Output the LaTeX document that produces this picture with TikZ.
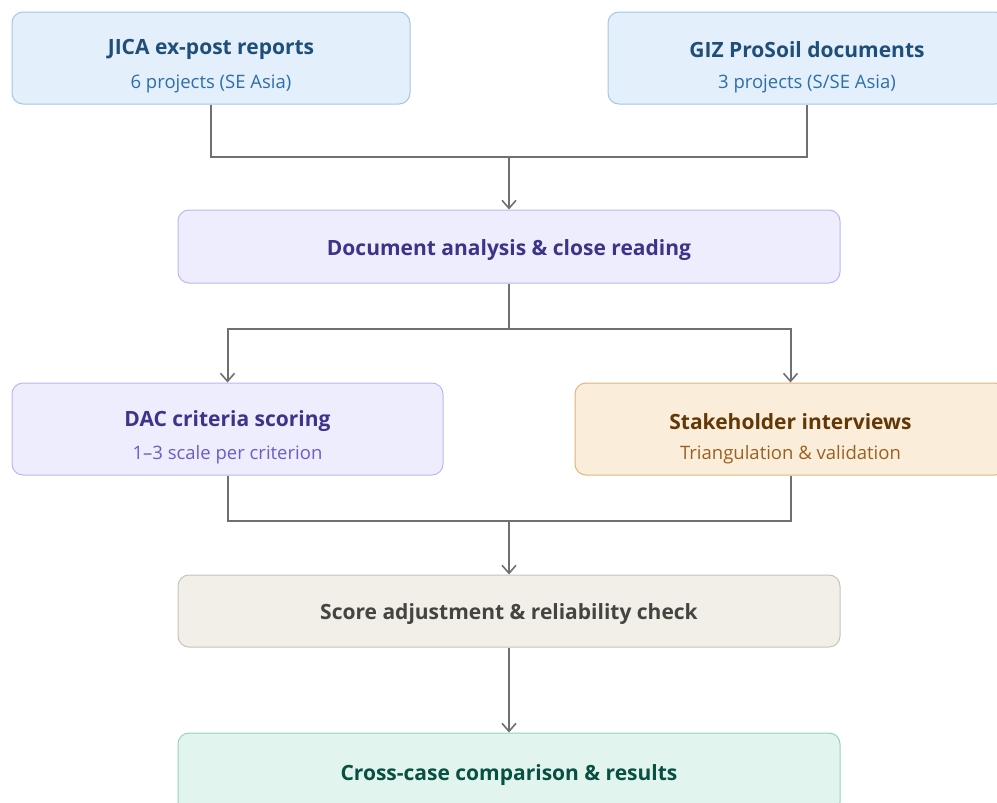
\documentclass[tikz,border=0pt]{standalone}
\usepackage{fontspec}
\setmainfont{Open Sans}
\usetikzlibrary{arrows.meta}
\definecolor{lineC}{HTML}{707070}
\definecolor{blueF}{HTML}{E3EFFA}\definecolor{blueD}{HTML}{A3C6E4}\definecolor{blueT}{HTML}{1F4E79}\definecolor{blueS}{HTML}{2F6EA8}
\definecolor{purF}{HTML}{EEEDFD}\definecolor{purD}{HTML}{BDB7EF}\definecolor{purT}{HTML}{3C3489}\definecolor{purS}{HTML}{6A5CCB}
\definecolor{orF}{HTML}{FAEEDA}\definecolor{orD}{HTML}{DDB57E}\definecolor{orT}{HTML}{633806}\definecolor{orS}{HTML}{9A6020}
\definecolor{grF}{HTML}{F1EFE8}\definecolor{grD}{HTML}{C6C3B8}\definecolor{grT}{HTML}{444441}
\definecolor{teF}{HTML}{E1F5EE}\definecolor{teD}{HTML}{97D3BB}\definecolor{teT}{HTML}{085041}
\tikzset{
  box/.style={draw, rounded corners=11pt, line width=1pt, inner sep=0pt},
  ttl/.style={font=\fontsize{21}{25}\selectfont\bfseries, inner sep=0pt},
  sbt/.style={font=\fontsize{18.5}{22}\selectfont, inner sep=0pt},
  conn/.style={draw=lineC, line width=2pt},
  arr/.style={conn, -{Straight Barb[length=8pt,width=14pt,line width=1.6pt]}},
}
\begin{document}
\begin{tikzpicture}[x=1pt,y=1pt]
\clip (0,0) rectangle (997,-803);
\useasboundingbox (0,0) rectangle (997,-803);
% boxes
\node[box, fill=blueF, draw=blueD, minimum width=398pt, minimum height=92pt] (jica) at (211,-58) {};
\node[box, fill=blueF, draw=blueD, minimum width=398pt, minimum height=92pt] (giz) at (807,-58) {};
\node[box, fill=purF, draw=purD, minimum width=662pt, minimum height=73pt] (doc) at (509,-246.5) {};
\node[box, fill=purF, draw=purD, minimum width=431pt, minimum height=92pt] (dac) at (227.5,-429) {};
\node[box, fill=orF, draw=orD, minimum width=431pt, minimum height=92pt] (stake) at (790.5,-429) {};
\node[box, fill=grF, draw=grD, minimum width=662pt, minimum height=72pt] (score) at (509,-611) {};
\node[box, fill=teF, draw=teD, minimum width=662pt, minimum height=80pt] (cross) at (509,-773) {};
% texts
\node[ttl, text=blueT] (jicat) at (211,-49.5) {JICA ex-post reports};
\node[sbt, text=blueS] (jicas) at (211,-83.5) {6 projects (SE Asia)};
\node[ttl, text=blueT] (gizt) at (807,-49.5) {GIZ ProSoil documents};
\node[sbt, text=blueS] (gizs) at (807,-83.5) {3 projects (S/SE Asia)};
\node[ttl, text=purT] (doct) at (509,-250) {Document analysis \& close reading};
\node[ttl, text=purT] (dact) at (227.5,-421.5) {DAC criteria scoring};
\node[sbt, text=purS] (dacs) at (227.5,-454.5) {1–3 scale per criterion};
\node[ttl, text=orT] (staket) at (790.5,-421.5) {Stakeholder interviews};
\node[sbt, text=orS] (stakes) at (790.5,-454.5) {Triangulation \& validation};
\node[ttl, text=grT] (scoret) at (509,-614) {Score adjustment \& reliability check};
\node[ttl, text=teT] (crosst) at (509,-775) {Cross-case comparison \& results};
% connectors
\coordinate (j1) at (509,-157);
\coordinate (j2) at (509,-329);
\coordinate (j3) at (509,-521);
\draw[conn] (jica.south) |- (j1) -| (giz.south);
\draw[arr] (j1) -- (doc.north);
\draw[conn] (doc.south) -- (j2);
\draw[arr] (j2) -| (dac.north);
\draw[arr] (j2) -| (stake.north);
\draw[conn] (dac.south) |- (j3) -| (stake.south);
\draw[arr] (j3) -- (score.north);
\draw[arr] (score.south) -- (cross.north);
\end{tikzpicture}
\end{document}
